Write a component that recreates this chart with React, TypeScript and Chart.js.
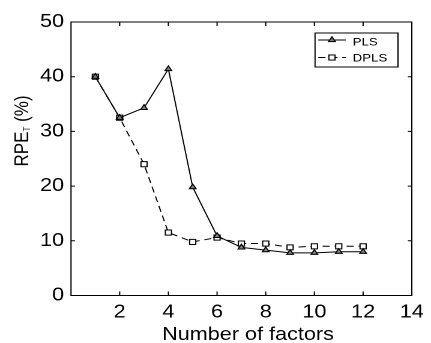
import React, { useEffect, useRef } from "react";
import { Chart, registerables } from "chart.js";
Chart.register(...registerables);

const factors = [1, 2, 3, 4, 5, 6, 7, 8, 9, 10, 11, 12];
const plsValues = [40.0, 32.5, 34.3, 41.4, 19.8, 10.9, 8.8, 8.3, 7.8, 7.8, 8.0, 8.0];
const dplsValues = [40.0, 32.5, 24.0, 11.5, 9.8, 10.6, 9.5, 9.5, 8.8, 9.0, 9.0, 9.0];
const xTicks = [2, 4, 6, 8, 10, 12, 14];
const yTicks = [0, 10, 20, 30, 40, 50];
const seriesLabels = ["PLS", "DPLS"];
const xTitle = "Number of factors";
const yTitleMain = "RPE";
const yTitleSub = "T";
const yTitleTail = " (%)";

const FONT = "'Liberation Sans', Arial, Helvetica, sans-serif";
const W = 359;
const H = 343;
const SX = 431 / W;

const framePlugin = {
  id: "frame",
  afterDraw(chart: any) {
    const ctx = chart.ctx as CanvasRenderingContext2D;
    const { left, right, top, bottom } = chart.chartArea;
    const xs = chart.scales.x;
    const ys = chart.scales.y;
    ctx.save();
    ctx.strokeStyle = "#000";
    ctx.lineWidth = 1;
    ctx.strokeRect(left, top, right - left, bottom - top);
    const tlX = 4;
    const tlY = 3.3;
    ctx.beginPath();
    for (const v of xTicks) {
      const px = xs.getPixelForValue(v);
      ctx.moveTo(px, bottom);
      ctx.lineTo(px, bottom - tlX);
      ctx.moveTo(px, top);
      ctx.lineTo(px, top + tlX);
    }
    for (const v of yTicks) {
      const py = ys.getPixelForValue(v);
      ctx.moveTo(left, py);
      ctx.lineTo(left + tlY, py);
      ctx.moveTo(right, py);
      ctx.lineTo(right - tlY, py);
    }
    ctx.stroke();

    // x title
    ctx.fillStyle = "#000";
    ctx.font = `18px ${FONT}`;
    ctx.textAlign = "center";
    ctx.textBaseline = "alphabetic";
    ctx.fillText(xTitle, (left + right) / 2 + 5.5, 340);

    // y title with subscript
    const mainFont = `17px ${FONT}`;
    const subFont = `8px ${FONT}`;
    ctx.font = mainFont;
    const w1 = ctx.measureText(yTitleMain).width;
    const w3 = ctx.measureText(yTitleTail).width;
    ctx.font = subFont;
    const w2 = ctx.measureText(yTitleSub).width;
    const total = w1 + w2 + w3;
    ctx.translate(23.3, 131);
    ctx.rotate(-Math.PI / 2);
    ctx.textAlign = "left";
    let x0 = -total / 2;
    ctx.font = mainFont;
    ctx.fillText(yTitleMain, x0, 0);
    x0 += w1;
    ctx.font = subFont;
    ctx.fillText(yTitleSub, x0, 1.5);
    x0 += w2;
    ctx.font = mainFont;
    ctx.fillText(yTitleTail, x0, 0);
    ctx.restore();

    // legend
    ctx.save();
    const bx0 = 262.4, bx1 = 331.5, by0 = 33, by1 = 67;
    ctx.fillStyle = "#fff";
    ctx.fillRect(bx0, by0, bx1 - bx0, by1 - by0);
    ctx.strokeStyle = "#000";
    ctx.lineWidth = 1;
    ctx.strokeRect(bx0, by0, bx1 - bx0, by1 - by0);
    const lx0 = 265.1, lx1 = 288, mx = 276.5;
    const rows = [40, 57.5];
    const baselines = [45.7, 61.6];
    chart.data.datasets.forEach((ds: any, i: number) => {
      const y = rows[i];
      ctx.strokeStyle = "#000";
      ctx.lineWidth = 1;
      ctx.setLineDash(ds.borderDash || []);
      ctx.beginPath();
      ctx.moveTo(lx0, y);
      ctx.lineTo(lx1, y);
      ctx.stroke();
      ctx.setLineDash([]);
      ctx.fillStyle = ds.pointBackgroundColor;
      ctx.strokeStyle = ds.pointBorderColor;
      ctx.lineWidth = 1;
      if (ds.pointStyle === "triangle") {
        const r = ds.pointRadius;
        ctx.beginPath();
        ctx.moveTo(mx, y - r);
        ctx.lineTo(mx + r * Math.sin((2 * Math.PI) / 3), y - r * Math.cos((2 * Math.PI) / 3));
        ctx.lineTo(mx + r * Math.sin((4 * Math.PI) / 3), y - r * Math.cos((4 * Math.PI) / 3));
        ctx.closePath();
        ctx.fill();
        ctx.stroke();
      } else {
        const s = Math.SQRT1_2 * ds.pointRadius;
        ctx.fillRect(mx - s, y - s, 2 * s, 2 * s);
        ctx.strokeRect(mx - s, y - s, 2 * s, 2 * s);
      }
      ctx.fillStyle = "#000";
      ctx.font = `11px ${FONT}`;
      ctx.textAlign = "left";
      ctx.textBaseline = "alphabetic";
      ctx.fillText(ds.label, 293.8, baselines[i]);
    });
    ctx.restore();
  },
};

export default function App() {
  const ref = useRef<HTMLCanvasElement | null>(null);
  useEffect(() => {
    document.body.style.margin = "0";
    const canvas = ref.current;
    if (!canvas) return;
    const chart = new Chart(canvas, {
      type: "line",
      data: {
        datasets: [
          {
            label: seriesLabels[0],
            data: factors.map((f, i) => ({ x: f, y: plsValues[i] })),
            borderColor: "#000",
            borderWidth: 1,
            pointStyle: "triangle",
            pointRadius: 3.2,
            pointBackgroundColor: "#808080",
            pointBorderColor: "#000",
            pointBorderWidth: 1,
            tension: 0,
          } as any,
          {
            label: seriesLabels[1],
            data: factors.map((f, i) => ({ x: f, y: dplsValues[i] })),
            borderColor: "#000",
            borderWidth: 1,
            borderDash: [6, 4],
            pointStyle: "rect",
            pointRadius: 3.6,
            pointBackgroundColor: "#fff",
            pointBorderColor: "#000",
            pointBorderWidth: 1,
            tension: 0,
          } as any,
        ],
      },
      options: {
        animation: false,
        responsive: true,
        maintainAspectRatio: false,
        devicePixelRatio: 2,
        layout: { padding: { left: 0, right: 10.4, top: 22, bottom: 0 } },
        plugins: {
          legend: { display: false },
          tooltip: { enabled: false },
          title: { display: false },
        },
        scales: {
          x: {
            type: "linear",
            min: 0,
            max: 14,
            afterBuildTicks: (s: any) => {
              s.ticks = xTicks.map((v) => ({ value: v }));
            },
            afterFit: (s: any) => {
              s.height = 47.5;
            },
            grid: { display: false, drawTicks: false },
            border: { display: false },
            ticks: {
              padding: 6,
              color: "#000",
              font: { family: FONT, size: 18 },
              maxRotation: 0,
              autoSkip: false,
            },
          },
          y: {
            type: "linear",
            min: 0,
            max: 50,
            afterBuildTicks: (s: any) => {
              s.ticks = yTicks.map((v) => ({ value: v }));
            },
            afterFit: (s: any) => {
              s.width = 59.14;
            },
            grid: { display: false, drawTicks: false },
            border: { display: false },
            ticks: {
              padding: 5.8,
              color: "#000",
              font: { family: FONT, size: 18 },
              autoSkip: false,
            },
          },
        },
      },
      plugins: [framePlugin],
    });
    return () => chart.destroy();
  }, []);
  return (
    <div
      style={{
        position: "fixed",
        left: 0,
        top: 0,
        width: W,
        height: H,
        transform: `scaleX(${SX})`,
        transformOrigin: "0 0",
      }}
    >
      <canvas ref={ref} />
    </div>
  );
}
